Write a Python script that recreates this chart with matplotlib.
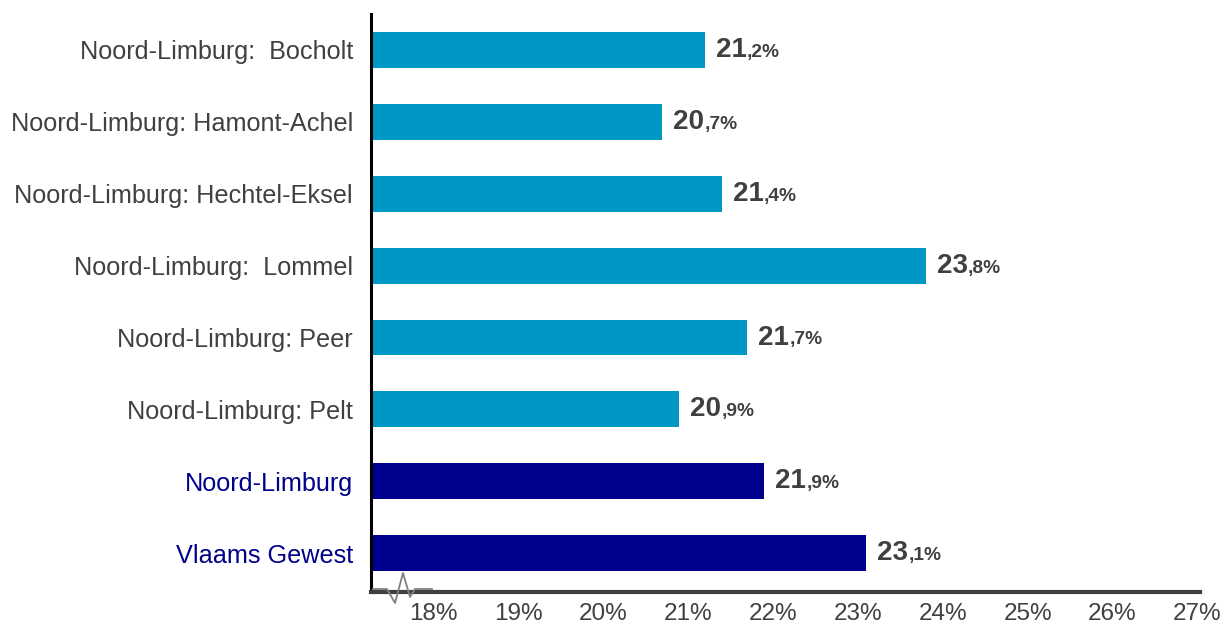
import matplotlib.pyplot as plt

plt.rcParams['font.family'] = ['Liberation Sans', 'DejaVu Sans']

# gegevens
regio = ["Noord-Limburg:  Bocholt", "Noord-Limburg: Hamont-Achel",
         "Noord-Limburg: Hechtel-Eksel", "Noord-Limburg:  Lommel",
         "Noord-Limburg: Peer", "Noord-Limburg: Pelt",
         "Noord-Limburg", "Vlaams Gewest"]
waarde = [21.2, 20.7, 21.4, 23.8, 21.7, 20.9, 21.9, 23.1]
niveau = ["gemeente"] * 6 + ["regio", "regio"]
xticks = [18, 19, 20, 21, 22, 23, 24, 25, 26, 27]

kleur_bar = {"gemeente": "#0097C4", "regio": "#00008F"}
kleur_label = {"gemeente": "#404040", "regio": "#00008B"}
grijs = "#404040"

fig = plt.figure(figsize=(12.31, 6.3), dpi=100)
ax = fig.add_axes([371 / 1231, 38 / 630, 829 / 1231, 578 / 630])

y = list(range(len(regio)))
x0 = 17.27
ax.barh(y, [w - x0 for w in waarde], left=x0, height=0.5,
        color=[kleur_bar[n] for n in niveau])

ax.set_xlim(x0, 27.03)
ax.set_ylim(7.54, -0.5)

ax.set_yticks(y)
ax.set_yticklabels(regio, fontsize=18.2)
for lbl, n in zip(ax.get_yticklabels(), niveau):
    lbl.set_color(kleur_label[n])
ax.set_xticks(xticks)
ax.set_xticklabels([f"{t}%" for t in xticks], fontsize=17.5, color=grijs)
ax.tick_params(axis="both", length=0)
ax.tick_params(axis="y", pad=13)
ax.tick_params(axis="x", pad=8)

for s in ["top", "right"]:
    ax.spines[s].set_visible(False)
ax.spines["left"].set_color("black")
ax.spines["left"].set_linewidth(2.2)
ax.spines["bottom"].set_color(grijs)
ax.spines["bottom"].set_linewidth(3)

# waardelabels: groot geheel deel, klein decimaal deel
for yi, w in zip(y, waarde):
    geheel, dec = f"{w:.1f}".split(".")
    t = ax.annotate(geheel, xy=(w, yi), xytext=(8, 0), textcoords="offset points",
                    ha="left", va="center", fontsize=20, fontweight="bold",
                    color=grijs)
    ax.annotate(f",{dec}%", xy=(1, 0.08), xycoords=t, ha="left", va="bottom",
                fontsize=13.8, fontweight="bold", color=grijs)

# asonderbreking
px = [373, 387, 395, 403, 410, 415, 432]
py = [589, 589, 603, 573, 597, 589, 589]
ax.plot([(p - 371) / 829 for p in px], [(592 - p) / 578 for p in py],
        transform=ax.transAxes, color="#808080", lw=1.3, clip_on=False, zorder=5)

fig.savefig("out.png", dpi=100)
